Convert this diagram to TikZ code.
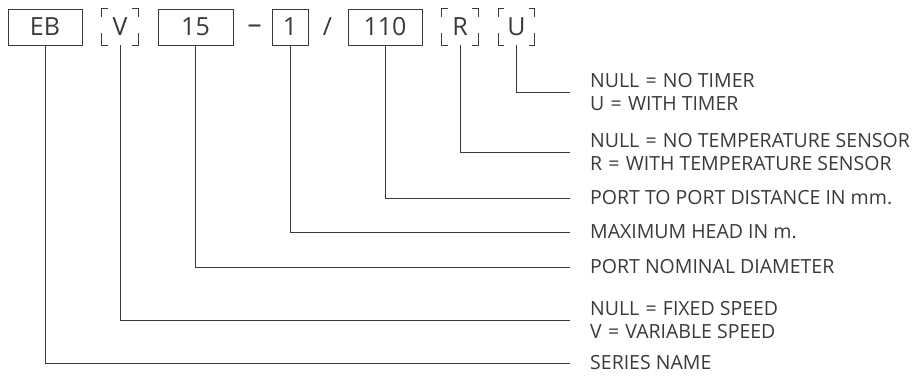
\documentclass[tikz,border=0pt]{standalone}
\usepackage{fontspec}
\setmainfont{Open Sans}
\usetikzlibrary{positioning}
\definecolor{ink}{HTML}{3A3A3A}
\newcommand\eqsign{\hspace{0.32em}=\hspace{0.32em}}

\begin{document}
\begin{tikzpicture}[x=1pt,y=-1pt,font=\fontsize{19.5}{23}\selectfont,text=ink,
  part/.style={draw=ink,line width=1pt,minimum height=36pt,inner sep=0pt,font=\fontsize{25}{25}\selectfont},
  opt/.style={minimum width=36pt,minimum height=36pt,inner sep=0pt,font=\fontsize{25}{25}\selectfont},
  lead/.style={draw=ink,line width=1pt},
  note/.style={right=20pt of #1,inner sep=0pt,align=left}]
  \useasboundingbox (0,0) rectangle (918,376);

  % code fields
  \node[part,minimum width=74pt] (eb) at (45,27) {EB};
  \node[opt] (v) at (120,27) {V};
  \node[part,minimum width=75pt] (dn) at (195.5,27) {15};
  \node[opt,minimum width=0pt,font=\fontsize{28}{28}\selectfont] (dash) at (254.5,29) {–};
  \node[part,minimum width=36pt] (hd) at (290,27) {1};
  \node[opt,minimum width=0pt] (slash) at (327.5,27) {/};
  \node[part,minimum width=74pt] (pd) at (385,27) {110};
  \node[opt] (r) at (460,27) {R};
  \node[opt] (u) at (516.5,27) {U};

  % optional fields: corners only
  \foreach \n in {v,r,u} {
    \draw[lead] ([yshift=-8pt]\n.north west) |- ([xshift=6pt]\n.north west);
    \draw[lead] ([yshift=-8pt]\n.north east) |- ([xshift=-6pt]\n.north east);
    \draw[lead] ([yshift=12pt]\n.south west) |- ([xshift=6pt]\n.south west);
    \draw[lead] ([yshift=12pt]\n.south east) |- ([xshift=-6pt]\n.south east);
  }

  \coordinate (uend) at (570,92);
  \coordinate (rend) at (570,152);
  \coordinate (pdend) at (570,198);
  \coordinate (hdend) at (570,232);
  \coordinate (dnend) at (570,267);
  \coordinate (vend) at (570,320);
  \coordinate (ebend) at (570,363);
  \foreach \n in {eb,v,dn,hd,pd,r,u}
    \draw[lead] (\n.south) |- (\n end);

  \node[note=uend] (utxt) {NULL\eqsign NO TIMER\\U\eqsign WITH TIMER};
  \node[note=rend] (rtxt) {NULL\eqsign NO TEMPERATURE SENSOR\\R\eqsign WITH TEMPERATURE SENSOR};
  \node[note=pdend] (pdtxt) {PORT TO PORT DISTANCE IN mm.};
  \node[note=hdend] (hdtxt) {MAXIMUM HEAD IN m.};
  \node[note=dnend] (dntxt) {PORT NOMINAL DIAMETER};
  \node[note=vend] (vtxt) {NULL\eqsign FIXED SPEED\\V\eqsign VARIABLE SPEED};
  \node[note=ebend] (ebtxt) {SERIES NAME};
\end{tikzpicture}
\end{document}
